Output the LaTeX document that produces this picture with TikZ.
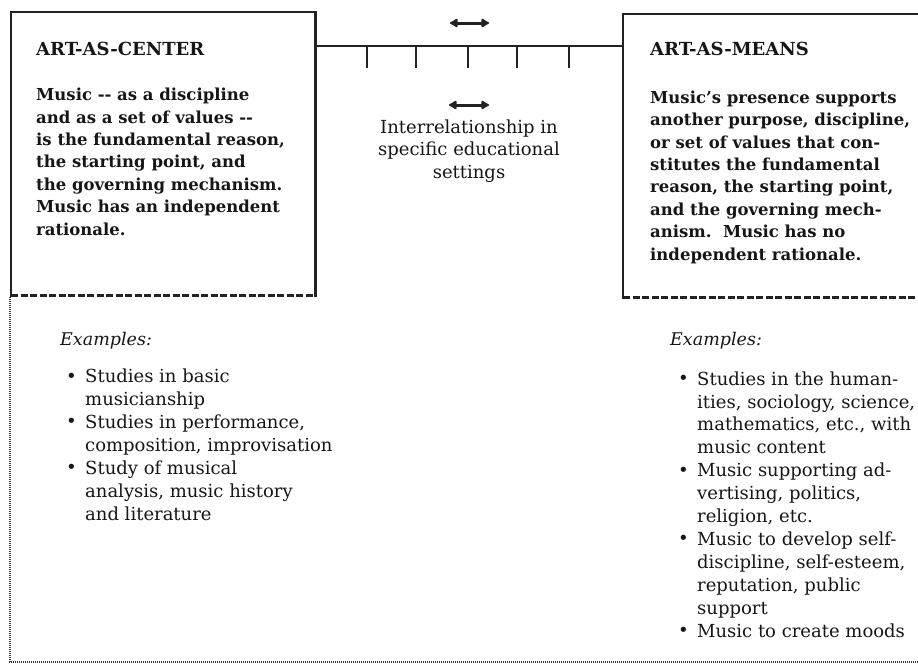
\documentclass[tikz,border=0pt]{standalone}
\usepackage{fontspec}
\setmainfont{DejaVu Serif}
\usetikzlibrary{arrows.meta}
\definecolor{ink}{HTML}{161616}
\definecolor{rule}{HTML}{222222}
% bullet and hanging indent for the example lists
\newcommand{\bul}{\makebox[19pt][l]{\raisebox{0.5pt}{\fontsize{18}{18}\selectfont\textbullet}}}
\newcommand{\ind}{\hspace*{19pt}}
\begin{document}
\begin{tikzpicture}[x=1pt,y=-1pt,
  frame/.style={line width=2.6pt, draw=rule, line cap=rect},
  dashedge/.style={line width=2.6pt, draw=rule, dash pattern=on 7pt off 2.5pt},
  dotedge/.style={line width=2pt, draw=rule!90, dash pattern=on 1pt off 1pt},
  tick/.style={line width=2.4pt, draw=rule},
  dbl/.style={line width=3pt, draw=rule,
    {Latex[length=9pt,width=11pt,round]}-{Latex[length=9pt,width=11pt,round]}},
  boxarea/.style={inner sep=0pt, anchor=north west},
  % multi-line nodes below are placed by the baseline of their last line
  title/.style={anchor=base west, inner sep=0pt, text=ink,
    font=\fontsize{18}{20}\selectfont\bfseries},
  body/.style={anchor=base west, inner sep=0pt, align=left, text=ink,
    font=\fontsize{16.5}{22.4}\selectfont\bfseries},
  exhead/.style={anchor=base west, inner sep=0pt, text=ink,
    font=\fontsize{17.5}{22}\selectfont\itshape},
  exlist/.style={anchor=base west, inner sep=0pt, align=left, text=ink,
    font=\fontsize{18}{22.9}\selectfont},
  relabel/.style={anchor=base, inner sep=0pt, align=center, text=ink,
    font=\fontsize{18}{22.5}\selectfont}
]
\useasboundingbox (0,0) rectangle (918,664);

% the two boxes
\node[boxarea, minimum width=304pt, minimum height=283pt] (lbox) at (11,12) {};
\node[boxarea, minimum width=310pt, minimum height=283pt] (rbox) at (623,14) {};

\draw[frame] (lbox.south west) -- (lbox.north west) -- (lbox.north east) -- (lbox.south east);
\draw[dashedge] (lbox.south west) -- (lbox.south east);
\draw[frame] (rbox.north east) -- (rbox.north west) -- (rbox.south west);
\draw[dashedge] (rbox.south west) -- (rbox.south east);

% dotted frame of the lower area
\coordinate (dtop) at (10,297);
\coordinate (dcorner) at (10,662);
\coordinate (dend) at (918,662);
\draw[dotedge] (dtop) -- (dcorner) -- (dend);

% scale bar between the boxes
\coordinate (ybar) at (0,46);
\coordinate (barL) at (lbox.east |- ybar);
\coordinate (barR) at (rbox.west |- ybar);
\draw[frame, line cap=butt] (barL) -- (barR);
\foreach \tx in {367,416,468,517,569}
  \draw[tick] (\tx,46) -- (\tx,68);

% double arrows
\coordinate (a1L) at (450,23);
\coordinate (a1R) at (489,23);
\draw[dbl] (a1L) -- (a1R);
\coordinate (a2L) at (449,105);
\coordinate (a2R) at (489,105);
\draw[dbl] (a2L) -- (a2R);

\node[relabel] (rel) at (469,178) {Interrelationship in\\specific educational\\settings};

% left box text
\node[title] (ltitle) at (36,55) {ART-AS-CENTER};
\node[body] (lbody) at (36,235) {Music -{}- as a discipline\\
and as a set of values -{}-\\
is the fundamental reason,\\
the starting point, and\\
the governing mechanism.\\
Music has an independent\\
rationale.};

% right box text
\node[title] (rtitle) at (650,55) {ART-AS-MEANS};
\node[body] (rbody) at (650,260) {Music’s presence supports\\
another purpose, discipline,\\
or set of values that con-\\
stitutes the fundamental\\
reason, the starting point,\\
and the governing mech-\\
anism.\ \ Music has no\\
independent rationale.};

% examples
\node[exhead] (lexh) at (60,345) {Examples:};
\node[exlist] (lex) at (66,520) {\bul Studies in basic\\
\ind musicianship\\
\bul Studies in performance,\\
\ind composition, improvisation\\
\bul Study of musical\\
\ind analysis, music history\\
\ind and literature};

\node[exhead] (rexh) at (670,345) {Examples:};
\node[exlist] (rex) at (678,637) {\bul Studies in the human-\\
\ind ities, sociology, science,\\
\ind mathematics, etc., with\\
\ind music content\\
\bul Music supporting ad-\\
\ind vertising, politics,\\
\ind religion, etc.\\
\bul Music to develop self-\\
\ind discipline, self-esteem,\\
\ind reputation, public\\
\ind support\\
\bul Music to create moods};
\end{tikzpicture}
\end{document}
